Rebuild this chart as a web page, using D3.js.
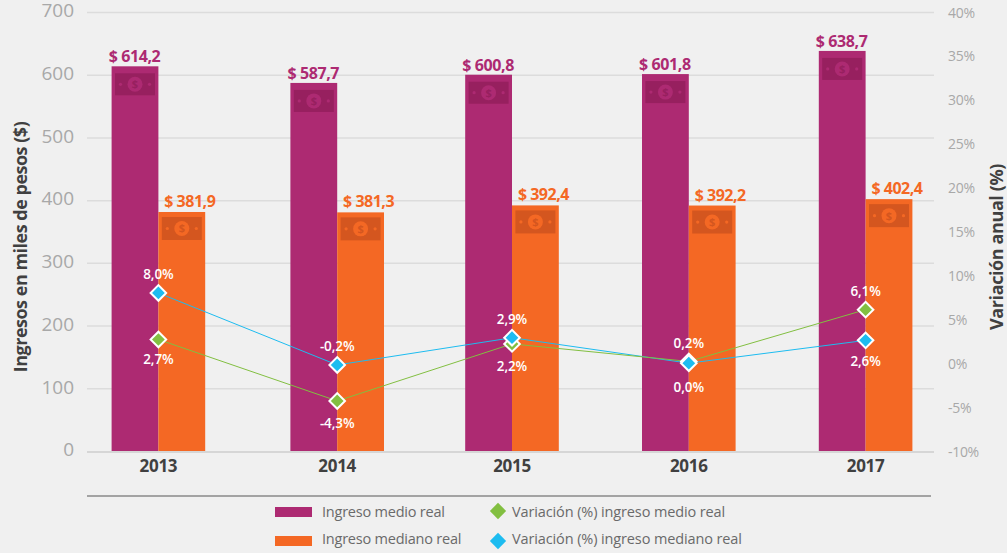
<!DOCTYPE html>
<html><head><meta charset="utf-8">
<script src="https://cdn.jsdelivr.net/npm/d3@7/dist/d3.min.js"></script>
<style>
html,body{margin:0;padding:0;background:#f0f0f0;}
svg{display:block;font-family:"Open Sans","Noto Sans",sans-serif;}
</style></head><body>
<svg id="c" width="1007" height="553"></svg>
<script>
const years=["2013","2014","2015","2016","2017"];
const medio=[614.2,587.7,600.8,601.8,638.7];
const mediano=[381.9,381.3,392.4,392.2,402.4];
const varMedio=[2.7,-4.3,2.2,0.2,6.1];
const varMediano=[8.0,-0.2,2.9,0.0,2.6];
const leftTicks=[0,100,200,300,400,500,600,700];
const rightTicks=[-10,-5,0,5,10,15,20,25,30,35,40];
const cMedio="#ad2a72",cMediano="#f46824",cGreen="#82bf41",cBlue="#1dbcf0";
const dMedio="#97205f",dMediano="#d4561f";
const catNudge=[0,2,0,0,0];
const fmt=v=>v.toFixed(1).replace(".",",");

const svg=d3.select("#c");
const y=d3.scaleLinear().domain([0,700]).range([451.5,12.5]);
const yr=d3.scaleLinear().domain([-10,40]).range([451,12]);
const x=d3.scaleBand().domain(years).range([70,954]).paddingInner(0).paddingOuter(0);
const cx=d=>x(d)+x.bandwidth()/2+catNudge[years.indexOf(d)];
const bw=46.8;

// left axis
const ga=svg.append("g");
ga.call(d3.axisLeft(y).tickValues(leftTicks).tickSize(0).tickFormat(d3.format("d")));
ga.select(".domain").remove();
ga.selectAll("text").attr("x",74).attr("dy","0.36em").attr("transform","translate(0,-2.5)").attr("fill","#a8a8a8").style("font-size","19px").style("font-family",'"Open Sans"');
svg.append("g").selectAll("line").data(leftTicks.filter(d=>d>0)).join("line")
  .attr("x1",87).attr("x2",934).attr("y1",d=>y(d)).attr("y2",d=>y(d)).attr("stroke","#dcdcdc").attr("stroke-width",1.5);

// right axis
const gr=svg.append("g");
gr.call(d3.axisRight(yr).tickValues(rightTicks).tickSize(0).tickFormat(d=>d+"%"));
gr.select(".domain").remove();
gr.selectAll("text").attr("x",948).attr("dy","0.36em").attr("fill","#a8a8a8").style("font-size","14px").style("font-family",'"Open Sans"').attr("letter-spacing","-0.3");

// bars
function money(g,xc,yy,h,col,fill){
  const w=40;
  g.append("rect").attr("x",xc-w/2).attr("y",yy).attr("width",w).attr("height",h).attr("fill",col);
  g.append("circle").attr("cx",xc).attr("cy",yy+h/2).attr("r",7.5).attr("fill",fill);
  g.append("circle").attr("cx",xc-14.5).attr("cy",yy+h/2).attr("r",1.6).attr("fill",fill);
  g.append("circle").attr("cx",xc+14.5).attr("cy",yy+h/2).attr("r",1.6).attr("fill",fill);
  g.append("text").attr("x",xc).attr("y",yy+h/2+4).attr("text-anchor","middle").attr("fill",col).style("font-size","11px").style("font-weight",700).text("$");
}
const bars=svg.append("g");
years.forEach((yn,i)=>{
  const c=cx(yn);
  bars.append("rect").attr("x",c-bw).attr("y",y(medio[i])).attr("width",bw).attr("height",y(0)-y(medio[i])).attr("fill",cMedio);
  bars.append("rect").attr("x",c).attr("y",y(mediano[i])).attr("width",bw).attr("height",y(0)-y(mediano[i])).attr("fill",cMediano);
  money(bars,c-bw/2,y(medio[i])+7,22,dMedio,cMedio);
  money(bars,c+bw/2,y(mediano[i])+5,23,dMediano,cMediano);
  bars.append("text").attr("x",c-bw/2-0.5).attr("y",y(medio[i])-4).attr("text-anchor","middle").attr("fill",cMedio)
    .style("font-size","16px").style("font-weight",700).attr("letter-spacing","-0.4").text("$ "+fmt(medio[i]));
  bars.append("text").attr("x",c+bw/2+8).attr("y",y(mediano[i])-5).attr("text-anchor","middle").attr("fill",cMediano)
    .style("font-size","16px").style("font-weight",700).attr("letter-spacing","-0.5").text("$ "+fmt(mediano[i]));
});

// baseline, category labels
svg.append("line").attr("x1",87).attr("x2",934).attr("y1",y(0)+0.5).attr("y2",y(0)+0.5).attr("stroke","#d6d6d6").attr("stroke-width",2);
svg.append("g").selectAll("text").data(years).join("text").attr("x",cx).attr("y",472).attr("text-anchor","middle")
  .attr("fill","#404040").style("font-size","17px").style("font-weight",700).attr("letter-spacing","-0.3").text(d=>d);
svg.append("line").attr("x1",87).attr("x2",931).attr("y1",496).attr("y2",496).attr("stroke","#8a8a8a").attr("stroke-width",1.5);

// lines
const line=d3.line().x((d,i)=>cx(years[i])).y(d=>yr(d));
[[varMediano,cBlue],[varMedio,cGreen]].forEach(([arr,col])=>{
  svg.append("path").attr("d",line(arr)).attr("fill","none").attr("stroke",col).attr("stroke-width",1);
});
function diamond(g,xc,yc,col,size,sw){
  g.append("path").attr("d",d3.symbol(d3.symbolSquare,size*size)()).attr("transform",`translate(${xc},${yc}) rotate(45)`)
    .attr("fill",col).attr("stroke",sw?"#fff":"none").attr("stroke-width",sw);
}
const pts=svg.append("g");
years.forEach((yn,i)=>{
  diamond(pts,cx(yn),yr(varMedio[i]),cGreen,11,2);
  diamond(pts,cx(yn),yr(varMediano[i]),cBlue,11,2);
});
const lab=svg.append("g").attr("fill","#fff").attr("text-anchor","middle").style("font-size","13.5px").style("font-weight",600).attr("letter-spacing","-0.1");
const offM=[25,27,27,-13,-14], offD=[-14,-14,-14,29,26];
const fmtP=v=>fmt(v)+"%";
years.forEach((yn,i)=>{
  lab.append("text").attr("x",cx(yn)).attr("y",yr(varMedio[i])+offM[i]).text(fmtP(varMedio[i]));
  lab.append("text").attr("x",cx(yn)).attr("y",yr(varMediano[i])+offD[i]).text(fmtP(varMediano[i]));
});

// axis titles
svg.append("text").attr("transform","translate(27,247) rotate(-90)").attr("text-anchor","middle").attr("fill","#404040")
  .style("font-size","18px").style("font-weight",700).attr("letter-spacing","-0.5").text("Ingresos en miles de pesos ($)");
svg.append("text").attr("transform","translate(1003,247) rotate(-90)").attr("text-anchor","middle").attr("fill","#404040")
  .style("font-size","18px").style("font-weight",700).attr("letter-spacing","-0.4").text("Variación anual (%)");

// legend
const leg=svg.append("g").style("font-size","14.5px").attr("fill","#6a6a6a");
leg.append("rect").attr("x",275).attr("y",507).attr("width",37).attr("height",10).attr("fill",cMedio);
leg.append("rect").attr("x",275).attr("y",536).attr("width",37).attr("height",10).attr("fill",cMediano);
leg.append("text").attr("x",322).attr("y",517).attr("letter-spacing","-0.22").text("Ingreso medio real");
leg.append("text").attr("x",322).attr("y",544).attr("letter-spacing","-0.22").text("Ingreso mediano real");
diamond(leg,498,511,cGreen,11.5,0);
diamond(leg,498,541,cBlue,11.5,0);
leg.append("text").attr("x",512).attr("y",517).attr("letter-spacing","-0.12").text("Variación (%) ingreso medio real");
leg.append("text").attr("x",512).attr("y",544).attr("letter-spacing","-0.12").text("Variación (%) ingreso mediano real");
</script>
</body></html>
